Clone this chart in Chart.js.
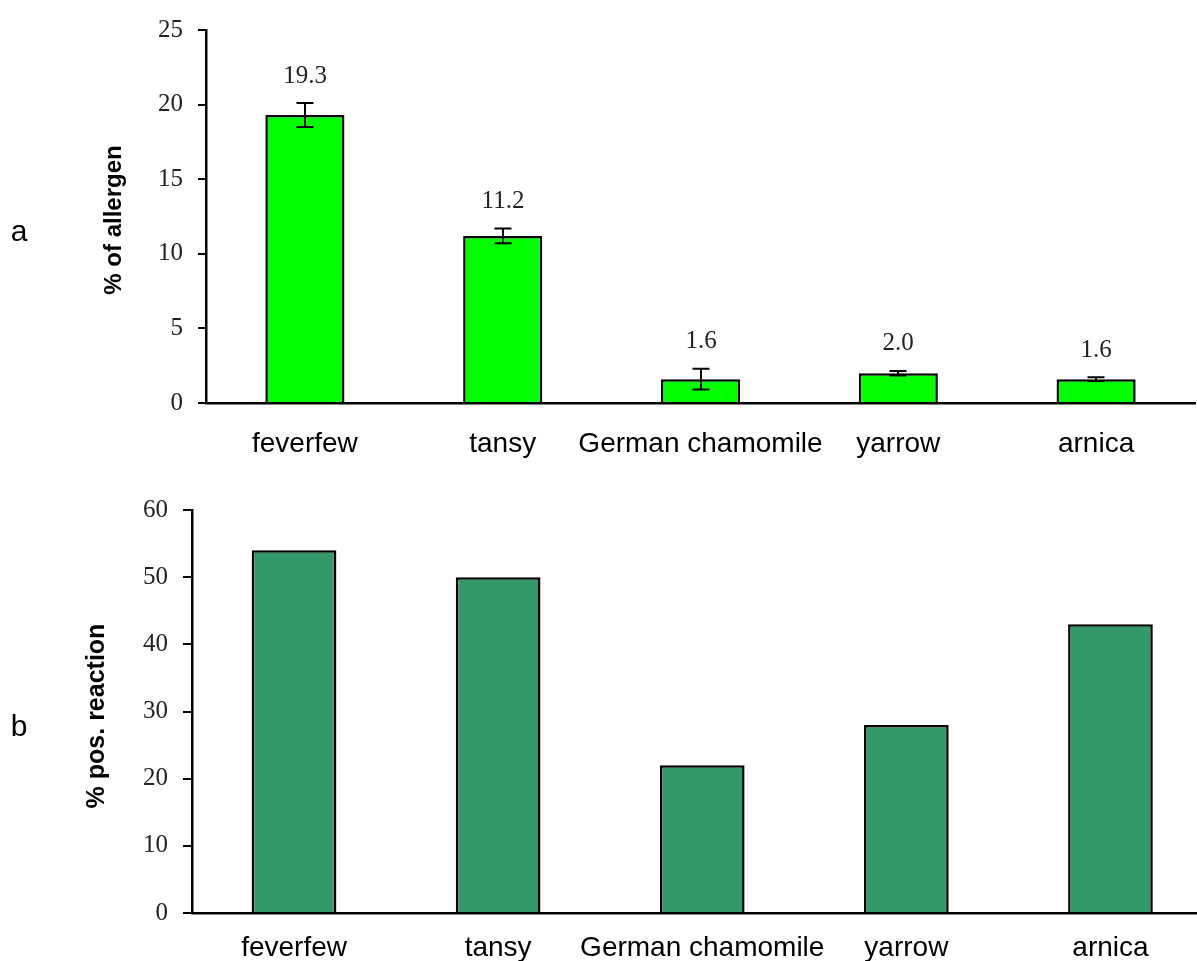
<!DOCTYPE html>
<html>
<head>
<meta charset="utf-8">
<script src="https://cdn.jsdelivr.net/npm/chart.js@4.4.1/dist/chart.umd.min.js"></script>
<style>
  html, body { margin: 0; padding: 0; background: #fff; overflow: hidden; width: 1197px; height: 961px; }
  #wrap { position: relative; width: 1197px; height: 961px; overflow: hidden; }
  #allergenChart { position: absolute; left: 0; top: 0; }
  #reactionChart { position: absolute; left: 0; top: 470px; }
</style>
</head>
<body>
<div id="wrap">
  <canvas id="allergenChart" width="1197" height="470"></canvas>
  <canvas id="reactionChart" width="1220" height="491"></canvas>
</div>
<script>
// Plants tested
const categories = ['feverfew', 'tansy', 'German chamomile', 'yarrow', 'arnica'];

// Panel a: allergen content (%) with standard deviation
const allergenPct = [19.3, 11.2, 1.6, 2.0, 1.6];
const allergenErr = [0.8, 0.5, 0.7, 0.15, 0.12];
const allergenTicks = [0, 5, 10, 15, 20, 25];

// Panel b: share of positive patch-test reactions (%)
const reactionPct = [54, 50, 22, 28, 43];
const reactionTicks = [0, 10, 20, 30, 40, 50, 60];

const SANS = '"Liberation Sans", Arial, sans-serif';
const SERIF = '"Liberation Serif", "Times New Roman", serif';

// Error bars and value labels above each bar
const errorBars = {
  id: 'errorBars',
  afterDatasetsDraw(chart, args, opts) {
    if (!opts.errors) return;
    const ctx = chart.ctx;
    const meta = chart.getDatasetMeta(0);
    const yScale = chart.scales.y;
    const values = chart.data.datasets[0].data;
    ctx.save();
    ctx.strokeStyle = '#000';
    ctx.lineWidth = 2;
    meta.data.forEach((bar, i) => {
      const v = values[i], e = opts.errors[i];
      const yt = yScale.getPixelForValue(v + e);
      const yb = yScale.getPixelForValue(v - e);
      const x = Math.round(bar.x);
      ctx.beginPath();
      ctx.moveTo(x, yt); ctx.lineTo(x, yb);
      ctx.moveTo(x - 8.5, yt); ctx.lineTo(x + 8.5, yt);
      ctx.moveTo(x - 8.5, yb); ctx.lineTo(x + 8.5, yb);
      ctx.stroke();
      ctx.fillStyle = '#222';
      ctx.font = '25px ' + SERIF;
      ctx.textAlign = 'center';
      ctx.textBaseline = 'middle';
      ctx.fillText(v.toFixed(1), x, yt - 27);
    });
    ctx.restore();
  }
};

// Panel letter and rotated y-axis title
const sideText = {
  id: 'sideText',
  afterDraw(chart, args, opts) {
    const ctx = chart.ctx;
    ctx.save();
    ctx.fillStyle = '#000';
    ctx.font = '30px ' + SANS;
    ctx.textAlign = 'center';
    ctx.textBaseline = 'alphabetic';
    ctx.fillText(opts.letter, opts.letterX, opts.letterY);
    ctx.translate(opts.titleX, opts.titleY);
    ctx.rotate(-Math.PI / 2);
    ctx.font = 'bold ' + opts.titleSize + 'px ' + SANS;
    ctx.textBaseline = 'middle';
    ctx.fillText(opts.title, 0, 0);
    ctx.restore();
  }
};

function makeChart(id, values, color, ticks, cfg) {
  return new Chart(document.getElementById(id), {
    type: 'bar',
    data: {
      labels: categories,
      datasets: [{
        data: values,
        backgroundColor: color,
        borderColor: '#000',
        borderWidth: 2.5,
        barPercentage: cfg.barPct,
        categoryPercentage: 1
      }]
    },
    options: {
      responsive: false,
      animation: false,
      events: [],
      layout: { padding: { top: cfg.padTop, right: cfg.padRight, left: 0, bottom: 0 } },
      plugins: {
        legend: { display: false },
        tooltip: { enabled: false },
        errorBars: { errors: cfg.errors },
        sideText: cfg.side
      },
      scales: {
        x: {
          grid: { display: false },
          border: { display: true, color: '#000', width: 2.5 },
          ticks: {
            color: '#000',
            font: { family: SANS, size: 28 },
            padding: cfg.xPad,
            maxRotation: 0,
            autoSkip: false
          },
          afterFit(s) { s.height = cfg.xHeight; }
        },
        y: {
          min: ticks[0],
          max: ticks[ticks.length - 1],
          ticks: {
            stepSize: ticks[1] - ticks[0],
            color: '#222',
            font: { family: SERIF, size: 25 },
            padding: 15
          },
          grid: { drawOnChartArea: false, drawTicks: true, tickLength: cfg.tickLen, color: '#000', lineWidth: 2 },
          border: { display: true, color: '#000', width: 2.5 },
          afterFit(s) { s.width = cfg.yWidth; }
        }
      }
    },
    plugins: [errorBars, sideText]
  });
}

makeChart('allergenChart', allergenPct, '#00ff00', allergenTicks, {
  barPct: 0.4, padTop: 26, padRight: 2, xHeight: 67, yWidth: 206, xPad: 16, tickLen: 8,
  errors: allergenErr,
  side: { letter: 'a', letterX: 19, letterY: 241, title: '% of allergen', titleSize: 24, titleX: 114, titleY: 220 }
});

makeChart('reactionChart', reactionPct, '#339966', reactionTicks, {
  barPct: 0.415, padTop: 40, padRight: 7.5, xHeight: 48, yWidth: 192, xPad: 10, tickLen: 9,
  errors: null,
  side: { letter: 'b', letterX: 19, letterY: 736 - 470, title: '% pos. reaction', titleSize: 25, titleX: 97, titleY: 246 }
});
</script>
</body>
</html>
